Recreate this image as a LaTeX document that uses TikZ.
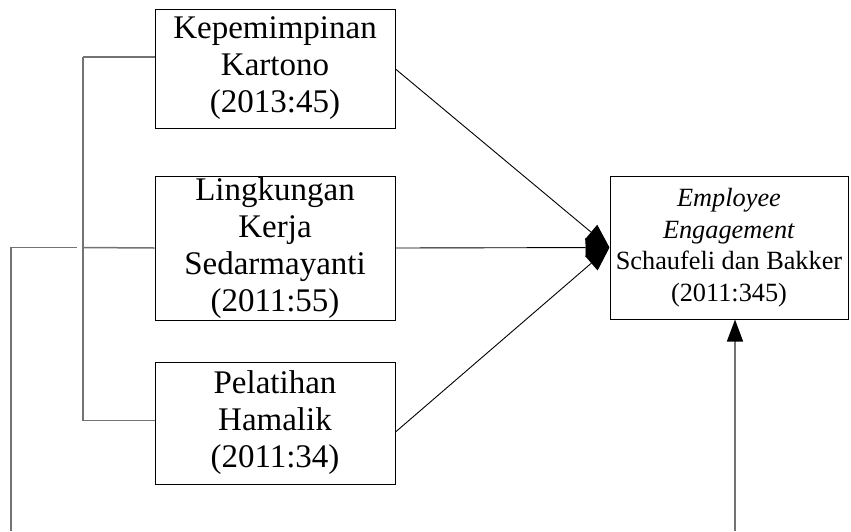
\documentclass[tikz,border=0pt]{standalone}
\usepackage{fontspec}
\setmainfont{Liberation Serif}
\usetikzlibrary{arrows.meta}
\begin{document}
\begin{tikzpicture}[x=1pt,y=-1pt,
  boxnode/.style={draw=black, line width=1pt, inner sep=0pt, align=center,
    font=\fontsize{33}{37}\selectfont},
  eenode/.style={draw=black, line width=1pt, inner sep=0pt, align=center,
    font=\fontsize{26.3}{31.5}\selectfont},
  grayline/.style={draw=black!55, line width=1.5pt},
  conn/.style={draw=black, line width=0.9pt, -{Triangle[length=24pt,width=19pt]}},
  ]
\useasboundingbox (0,0) rectangle (851,531);
\node[boxnode, minimum width=240pt, minimum height=119pt] (b1) at (275,68.5)
  {Kepemimpinan\\Kartono\\(2013:45)};
\node[boxnode, minimum width=240pt, minimum height=144pt] (b2) at (275,248)
  {Lingkungan\\Kerja\\Sedarmayanti\\(2011:55)};
\node[boxnode, minimum width=240pt, minimum height=122pt] (b3) at (275,423)
  {Pelatihan\\Hamalik\\(2011:34)};
\node[eenode, minimum width=238pt, minimum height=143pt] (ee) at (729,247.5)
  {\textit{Employee}\\\textit{Engagement}\\Schaufeli dan Bakker\\(2011:345)};
% bracket
\coordinate (bt) at (83,57);
\coordinate (bm) at (83,247.5);
\coordinate (bb) at (83,420.5);
\coordinate (lm) at (77,247.5);
\coordinate (ll) at (11,247.5);
\coordinate (lb) at (11,531);
\coordinate (rb) at (735,531);
\draw[grayline] (bt) -- (bb);
\draw[grayline] (bt) -- (bt -| b1.west);
\draw[grayline] (bm) -- (b2.west);
\draw[grayline] (bb) -- (bb -| b3.west);
\draw[grayline] (lb) -- (ll) -- (lm);
\draw[grayline, -{Triangle[length=22pt,width=16pt,color=black]}] (rb) -- (ee.south -| rb);
\path[conn] (b1.east |- 0,69) -- (ee.west);
\path[conn] (b2.east) -- (ee.west);
\path[conn] (b3.east |- 0,432) -- (ee.west);
\end{tikzpicture}
\end{document}
